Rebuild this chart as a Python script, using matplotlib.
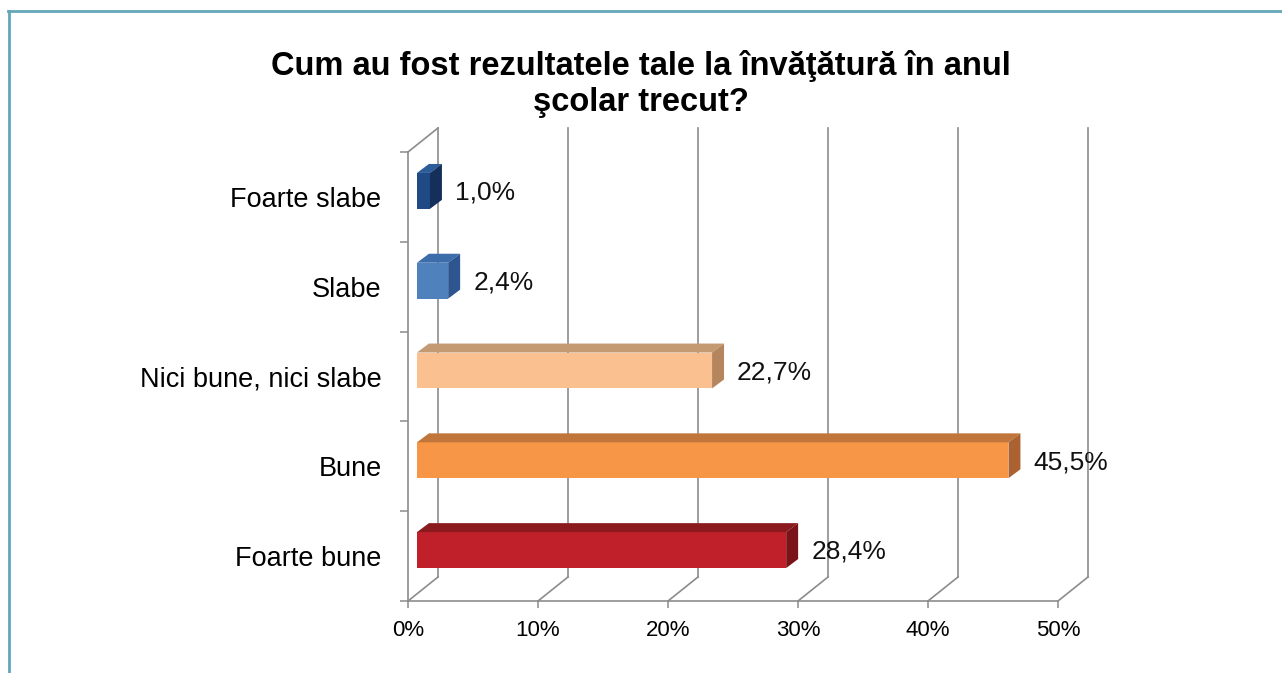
import matplotlib.pyplot as plt
from matplotlib.patches import Polygon
from matplotlib import font_manager

# Data (top to bottom as shown in the chart)
categories = ["Foarte slabe", "Slabe", "Nici bune, nici slabe", "Bune", "Foarte bune"]
values = [1.0, 2.4, 22.7, 45.5, 28.4]
x_ticks = [0, 10, 20, 30, 40, 50]
x_tick_labels = ["0%", "10%", "20%", "30%", "40%", "50%"]
title = "Cum au fost rezultatele tale la învăţătură în anul\nşcolar trecut?"

front_colors = ["#1f4a86", "#4f81bd", "#fac090", "#f79646", "#c0202a"]
top_colors = ["#2c5c99", "#3d6cab", "#c49a73", "#c0763a", "#8b1a1e"]
side_colors = ["#132f5a", "#2d5590", "#b5855e", "#ab6230", "#7b1418"]

names = {f.name for f in font_manager.fontManager.ttflist}
plt.rcParams['font.family'] = 'Liberation Sans' if 'Liberation Sans' in names else 'DejaVu Sans'
title_family = 'Liberation Sans Narrow' if 'Liberation Sans Narrow' in names else plt.rcParams['font.family']

W, H = 1282, 673
fig = plt.figure(figsize=(W / 100, H / 100), dpi=100)

# pseudo-3D geometry (in data units)
DX = 30 / 13.0          # depth shift of the back wall, in %
DY = 24 / 89.8          # depth shift of the back wall, in category units
X0 = 0.69               # bar front face start
YOFF = 0.067            # bar front face shift upwards
BAR_H = 0.40
TDX = 0.92              # bar depth along x
TDY = 0.10              # bar depth along y

ax = fig.add_axes([408 / W, (H - 601) / H, 680 / W, 473 / H])
ax.set_xlim(0, 50 + DX)
ax.set_ylim(-0.5, 4.5 + DY)
for s in ax.spines.values():
    s.set_visible(False)

grid_kw = dict(color="#8c8c8c", lw=1.2, clip_on=False, zorder=1)
# back wall gridlines and floor diagonals
for x in x_ticks:
    ax.plot([x + DX, x + DX], [-0.5 + DY, 4.5 + DY], **grid_kw)
    ax.plot([x, x + DX], [-0.5, -0.5 + DY], **grid_kw)
# front baseline, left wall edges
ax.plot([0, 50], [-0.5, -0.5], **grid_kw)
ax.plot([0, 0], [-0.5, 4.5], **grid_kw)
ax.plot([0, DX], [4.5, 4.5 + DY], **grid_kw)

pos = list(range(len(categories)))[::-1]

ax.barh([p + YOFF for p in pos], values, height=BAR_H, left=X0,
        color=front_colors, zorder=3)
for p, v, tc, sc in zip(pos, values, top_colors, side_colors):
    yb = p + YOFF - BAR_H / 2
    yt = p + YOFF + BAR_H / 2
    xr = X0 + v
    ax.add_patch(Polygon([(X0, yt), (xr, yt), (xr + TDX, yt + TDY), (X0 + TDX, yt + TDY)],
                         closed=True, facecolor=tc, edgecolor="none", zorder=3))
    ax.add_patch(Polygon([(xr, yb), (xr, yt), (xr + TDX, yt + TDY), (xr + TDX, yb + TDY)],
                         closed=True, facecolor=sc, edgecolor="none", zorder=3))
    ax.text(xr + TDX + 1.0, p + YOFF - 0.02, f"{v:.1f}".replace(".", ",") + "%",
            va="center", ha="left", fontsize=19, color="#111111", zorder=4)

ax.set_xticks(x_ticks)
ax.set_xticklabels(x_tick_labels, fontsize=16)
ax.tick_params(axis="x", direction="out", length=5, width=1.1, color="#8c8c8c", pad=9)
ax.set_yticks(pos)
ax.set_yticklabels(categories, fontsize=19.5)
ax.tick_params(axis="y", length=0, pad=19)
ax.set_yticks([-0.5, 0.5, 1.5, 2.5, 3.5, 4.5], minor=True)
ax.tick_params(axis="y", which="minor", direction="out", length=5.8, width=1.1, color="#8c8c8c")

fig.text(641 / W, 1 - 84 / H, title, ha="center", va="center", fontsize=23.5,
         fontweight="bold", family=title_family, linespacing=1.22)

# border around the figure
fig.add_artist(plt.Line2D([8 / W, 1], [1 - 11 / H, 1 - 11 / H], color="#62a6b8", lw=2,
                          transform=fig.transFigure))
fig.add_artist(plt.Line2D([9 / W, 9 / W], [0, 1 - 11 / H], color="#62a6b8", lw=2,
                          transform=fig.transFigure))

fig.savefig("out.png", dpi=100)
